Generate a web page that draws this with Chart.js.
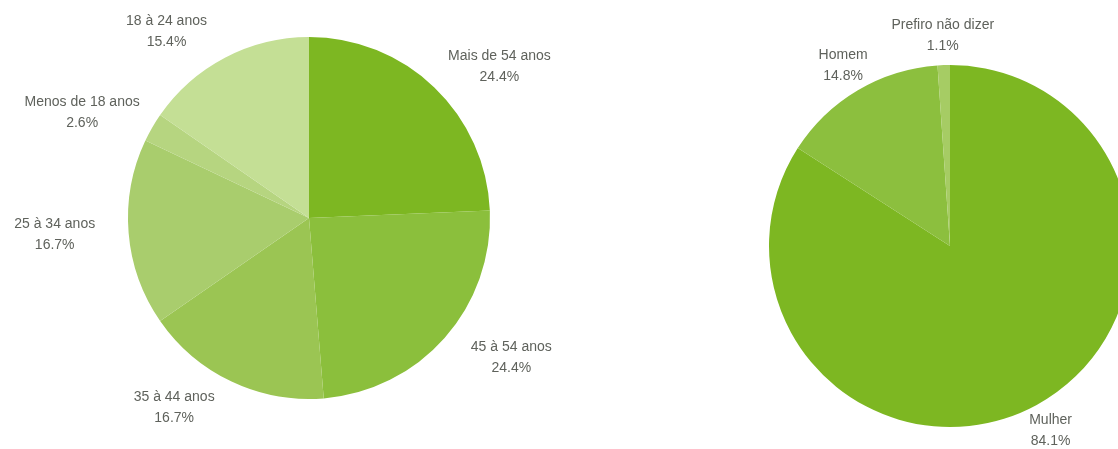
<!DOCTYPE html>
<html>
<head>
<meta charset="utf-8">
<script src="https://cdn.jsdelivr.net/npm/chart.js@4"></script>
<style>
  html, body { margin: 0; padding: 0; background: #fff; width: 1118px; height: 449px; overflow: hidden; }
  .pie { position: absolute; top: 0; height: 449px; }
  #idadeBox { left: 0; width: 618px; }
  #generoBox { left: 620px; width: 660px; }
</style>
</head>
<body>
<div id="idadeBox" class="pie"><canvas id="idadeChart"></canvas></div>
<div id="generoBox" class="pie"><canvas id="generoChart"></canvas></div>

<script>
// faixa etária
const idadeLabels = ["Mais de 54 anos", "45 à 54 anos", "35 à 44 anos", "25 à 34 anos", "Menos de 18 anos", "18 à 24 anos"];
const idadeValues = [24.4, 24.4, 16.7, 16.7, 2.6, 15.4];
const idadeColors = ["#7db722", "#8bbf3c", "#9bc553", "#a9cd6d", "#b6d580", "#c4df95"];

// gênero
const generoLabels = ["Mulher", "Homem", "Prefiro não dizer"];
const generoValues = [84.1, 14.8, 1.1];
const generoColors = ["#7db722", "#8cbf3e", "#a6cc64"];

/* Outside labels: name + percent, placed past the rim at the slice middle */
const outsideLabels = {
  id: "outsideLabels",
  afterDatasetsDraw(chart, args, opts) {
    const ctx = chart.ctx;
    const meta = chart.getDatasetMeta(0);
    const values = chart.data.datasets[0].data;
    ctx.save();
    ctx.font = "14px 'Liberation Sans', Arial, sans-serif";
    ctx.fillStyle = "#5f625c";
    ctx.textAlign = "center";
    ctx.textBaseline = "middle";
    meta.data.forEach((arc, i) => {
      const p = arc.getProps(["x", "y", "startAngle", "endAngle", "outerRadius"], true);
      const mid = (p.startAngle + p.endAngle) / 2;
      const d = p.outerRadius + opts.gap;
      const cx = Math.cos(mid), cy = Math.sin(mid);
      const x = p.x + d * cx + Math.sign(cx) * opts.shift;
      const y = p.y + d * cy;
      ctx.fillText(chart.data.labels[i], x, y - 10.5);
      ctx.fillText(values[i].toFixed(1) + "%", x, y + 10.5);
    });
    ctx.restore();
  }
};

function makePie(id, labels, values, colors, padding, shift) {
  return new Chart(document.getElementById(id), {
    type: "pie",
    data: {
      labels,
      datasets: [{ data: values, backgroundColor: colors, borderWidth: 0 }]
    },
    options: {
      responsive: true,
      maintainAspectRatio: false,
      animation: false,
      layout: { padding },
      plugins: {
        legend: { display: false },
        tooltip: { enabled: false },
        outsideLabels: { gap: 29, shift }
      }
    },
    plugins: [outsideLabels]
  });
}

makePie("idadeChart", idadeLabels, idadeValues, idadeColors, { top: 37, bottom: 50, left: 0, right: 0 }, 45);
makePie("generoChart", generoLabels, generoValues, generoColors, { top: 65, bottom: 22, left: 0, right: 0 }, 0);
</script>
</body>
</html>
